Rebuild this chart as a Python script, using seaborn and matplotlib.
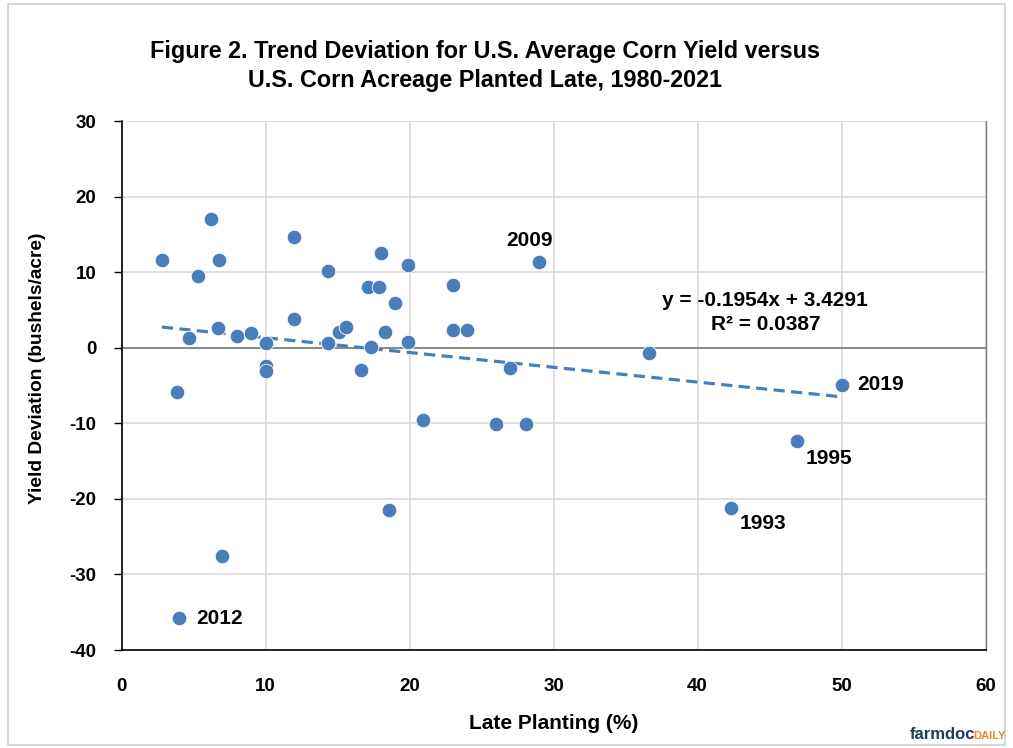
import numpy as np
import pandas as pd
import matplotlib.pyplot as plt
import seaborn as sns
from matplotlib.patches import Rectangle

# Late planting (%) and trend deviation (bu/acre)
late_planting = [2.8, 3.85, 4.0, 4.7, 5.3, 6.2, 6.7, 6.8, 7.0, 8.0,
                 9.0, 10.0, 10.0, 10.0, 12.0, 12.0, 14.3, 14.3, 15.1, 15.6,
                 16.6, 17.1, 17.3, 17.9, 18.0, 18.3, 19.0, 19.9, 19.9, 20.9,
                 18.6, 23.0, 23.0, 24.0, 26.0, 28.1, 27.0, 29.0, 36.6, 42.3,
                 46.9, 50.0]
yield_dev = [11.6, -5.8, -35.8, 1.3, 9.5, 17.1, 2.6, 11.6, -27.6, 1.6,
             1.9, 0.7, -2.4, -3.1, 14.7, 3.8, 10.2, 0.6, 2.1, 2.8,
             -3.0, 8.0, 0.1, 8.0, 12.6, 2.1, 5.9, 11.0, 0.8, -9.6,
             -21.5, 8.3, 2.3, 2.4, -10.1, -10.1, -2.7, 11.4, -0.7, -21.2,
             -12.4, -4.9]

# labelled years and where their labels sit
year_labels = ["2009", "2012", "2019", "1995", "1993"]
label_x = [28.3, 5.2, 51.1, 47.5, 42.9]
label_y = [14.2, -35.8, -4.9, -14.7, -23.3]
label_ha = ["center", "left", "left", "left", "left"]

df = pd.DataFrame({"late": late_planting, "dev": yield_dev})

sns.set_theme(style="white")
plt.rcParams["font.family"] = ["Liberation Sans", "DejaVu Sans"]
plt.rcParams["font.weight"] = "bold"
plt.rcParams["axes.unicode_minus"] = False
plt.rcParams["text.color"] = "black"
plt.rcParams["axes.labelcolor"] = "black"
plt.rcParams["xtick.color"] = "black"
plt.rcParams["ytick.color"] = "black"

blue = "#4a7ebb"

fig = plt.figure(figsize=(10.13, 7.48), dpi=100)
ax = fig.add_axes([0.12, 0.131, 0.853, 0.707])

# light border round the whole chart
fig.patches.append(Rectangle((0.008, 0.004), 0.984, 0.99, transform=fig.transFigure,
                             fill=False, edgecolor="#d0d0d0", lw=1.2))

ax.set_xlim(0, 60)
ax.set_ylim(-40, 30)
ax.set_xticks(range(0, 61, 10))
ax.set_yticks(range(-40, 31, 10))
ax.grid(True, color="#d9d9d9", lw=1.2)
ax.set_axisbelow(True)
ax.axhline(0, color="#8c8c8c", lw=1.5, zorder=1)

sns.regplot(data=df, x="late", y="dev", ax=ax, ci=None,
            scatter_kws=dict(s=110, color=blue, edgecolor="white", linewidths=0.6, alpha=1, zorder=3),
            line_kws=dict(color=blue, lw=2.3, ls=(0, (3.5, 2)), zorder=2))

for lab, x, y, ha in zip(year_labels, label_x, label_y, label_ha):
    ax.text(x, y, lab, ha=ha, va="center", fontsize=15, fontweight="bold", color="black")

ax.text(44.7, 6.2, "y = -0.1954x + 3.4291", ha="center", va="center", fontsize=15, fontweight="bold")
ax.text(44.7, 3.1, "R² = 0.0387", ha="center", va="center", fontsize=15, fontweight="bold")

for s in ["left", "bottom"]:
    ax.spines[s].set_color("black")
    ax.spines[s].set_linewidth(1.2)
ax.spines["top"].set_visible(False)
ax.spines["right"].set_color("#7f7f7f")
ax.spines["right"].set_linewidth(1.0)

ax.tick_params(axis="y", left=True, length=6, width=1, color="black", labelsize=13.5, pad=12)
ax.tick_params(axis="x", bottom=False, labelsize=13.5, pad=14)
for t in ax.get_xticklabels() + ax.get_yticklabels():
    t.set_fontweight("bold")

ax.set_xlabel("Late Planting (%)", fontsize=15, fontweight="bold", labelpad=14)
ax.set_ylabel("Yield Deviation (bushels/acre)", fontsize=13.8, fontweight="bold")
ax.yaxis.set_label_coords(-0.087, 0.533)

fig.text(0.479, 0.912, "Figure 2. Trend Deviation for U.S. Average Corn Yield versus\nU.S. Corn Acreage Planted Late, 1980-2021",
         ha="center", va="center", fontsize=16.8, fontweight="bold", linespacing=1.3)

# farmdoc daily mark
fig.text(0.898, 0.008, "farmdoc", ha="left", va="bottom", fontsize=12, fontweight="bold", color="#1f3a5f")
fig.text(0.961, 0.009, "DAILY", ha="left", va="bottom", fontsize=8, fontweight="bold", color="#f0862a")

fig.savefig("out.png", dpi=100)
